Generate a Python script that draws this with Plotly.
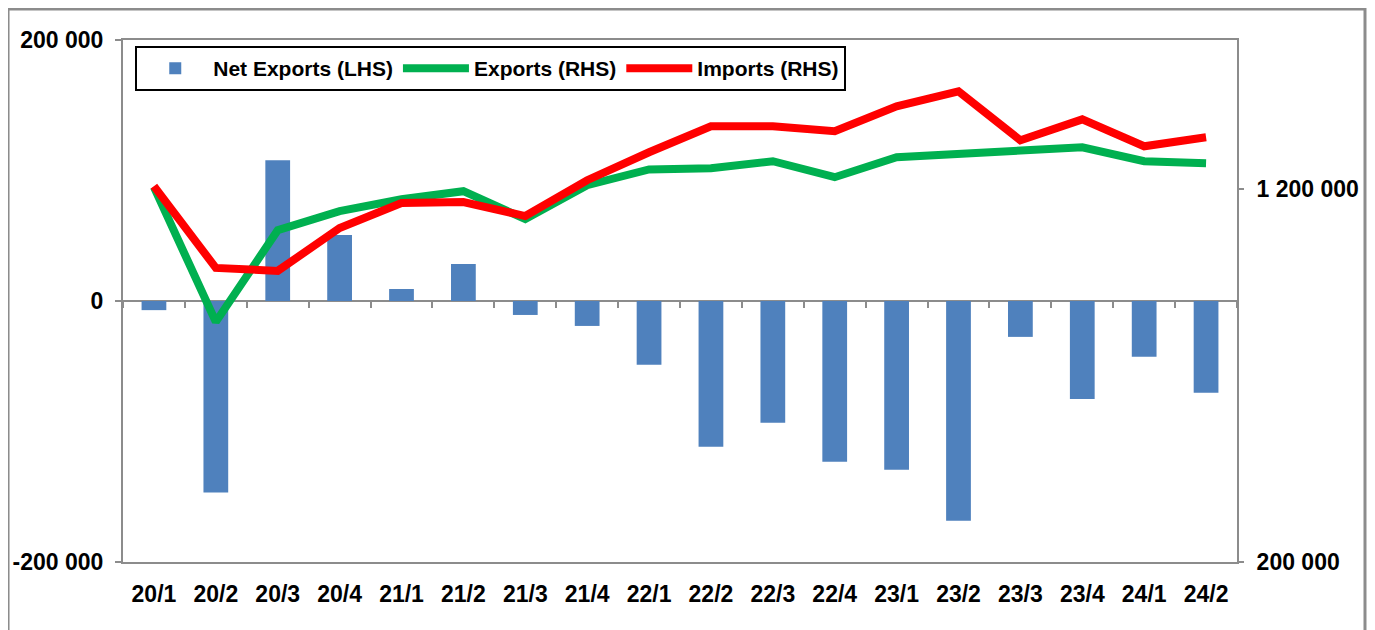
import plotly.graph_objects as go

categories = ["20/1", "20/2", "20/3", "20/4", "21/1", "21/2", "21/3", "21/4", "22/1",
              "22/2", "22/3", "22/4", "23/1", "23/2", "23/3", "23/4", "24/1", "24/2"]
net_exports = [-7000, -146800, 107800, 50500, 9200, 28300, -10700, -19100, -48900,
               -111700, -93300, -123100, -129300, -168300, -27500, -75000, -42800, -70400]
exports = [1205300, 844000, 1090000, 1141000, 1173000, 1194600, 1119800, 1210700, 1253000,
           1256000, 1274900, 1232000, 1285600, 1293600, 1304300, 1312300, 1274900, 1269500]
imports = [1208000, 988700, 980700, 1095700, 1162600, 1165200, 1127800, 1224000, 1298900,
           1368400, 1368400, 1355100, 1421900, 1462000, 1331000, 1387200, 1315000, 1339000]

left_ticks = [-200000, 0, 200000]
left_labels = ["-200 000", "0", "200 000"]
right_ticks = [200000, 1200000]
right_labels = ["200 000", "1 200 000"]

GRAY = "#8c8c8c"

fig = go.Figure()
fig.add_trace(go.Bar(x=categories, y=net_exports, name="Net Exports (LHS)",
                     marker=dict(color="#4F81BD", line=dict(width=0)),
                     xaxis="x", yaxis="y"))
fig.add_trace(go.Scatter(x=categories, y=exports, name="Exports (RHS)", mode="lines",
                         line=dict(color="#00B050", width=8), xaxis="x2", yaxis="y2"))
fig.add_trace(go.Scatter(x=categories, y=imports, name="Imports (RHS)", mode="lines",
                         line=dict(color="#FF0000", width=8), xaxis="x2", yaxis="y2"))

n = len(categories)
fig.update_layout(
    width=1375, height=630,
    margin=dict(l=115, r=146, t=32, b=76, pad=0, autoexpand=False),
    paper_bgcolor="white", plot_bgcolor="white",
    font=dict(family="Liberation Sans, Arial", size=23, color="black", weight="bold"),
    bargap=0.6,
    showlegend=True,
    legend=dict(orientation="h", x=0.011, y=0.9885, xanchor="left", yanchor="top",
                bordercolor="black", borderwidth=2, bgcolor="white",
                font=dict(size=21), itemwidth=66, tracegroupgap=0),
    xaxis=dict(type="category", categoryarray=categories, range=[-0.5, n - 0.5],
               showline=True, linecolor=GRAY, linewidth=2, mirror=True, automargin=False,
               ticks="", showgrid=False, tickfont=dict(size=23), ticklabelstandoff=10),
    xaxis2=dict(type="category", categoryarray=categories, range=[-0.5, n - 0.5],
                overlaying="x", anchor="free", position=0.5, showline=False, automargin=False,
                ticks="outside", tickson="boundaries", ticklen=6, tickwidth=2,
                tickcolor=GRAY, showticklabels=False, showgrid=False),
    yaxis=dict(range=[-200000, 200000], tickvals=left_ticks, ticktext=left_labels,
               showline=True, linecolor=GRAY, linewidth=2, mirror=True, automargin=False,
               ticks="outside", ticklen=6, tickwidth=2, tickcolor=GRAY,
               showgrid=False, zeroline=True, zerolinecolor=GRAY, zerolinewidth=2,
               tickfont=dict(size=23), ticklabelstandoff=7),
    yaxis2=dict(range=[200000, 1600000], tickvals=right_ticks, ticktext=right_labels,
                overlaying="y", side="right", anchor="x", automargin=False,
                ticks="outside", ticklen=6, tickwidth=2, tickcolor=GRAY,
                showgrid=False, zeroline=False, showline=False,
                tickfont=dict(size=23), ticklabelstandoff=8),
    shapes=[dict(type="rect", xref="paper", yref="paper",
                 x0=-0.1032, x1=1.1149, y0=-0.3, y1=1.0594,
                 line=dict(color=GRAY, width=3), layer="below")],
)

fig.write_html("out.html")
